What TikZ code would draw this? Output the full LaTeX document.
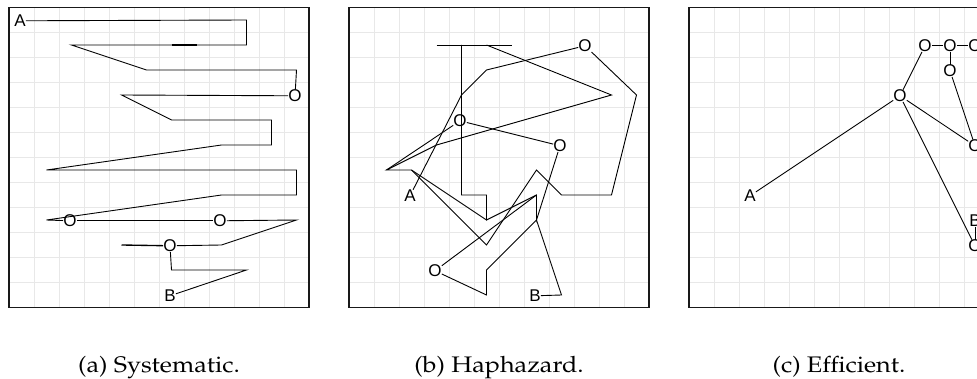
\documentclass[tikz,border=0pt]{standalone}
\usepackage{graphicx}
\usepackage{fontspec}
\newfontfamily\lblfont{Liberation Sans}
\newcommand{\widecap}[1]{\scalebox{1.12}[1]{#1}}
\usetikzlibrary{positioning}

\begin{document}
\begin{tikzpicture}[
            x=1pt, y=-1pt,
            gridline/.style={draw=black!9, line width=0.9pt},
            frame/.style   ={draw=black!90, line width=1.4pt},
            walk/.style    ={draw=black, line width=0.9pt, line join=miter},
            retrace/.style ={draw=black, line width=1.35pt},
            lbl/.style     ={font=\lblfont\fontsize{17}{17}\selectfont, inner sep=0pt,
                             xshift=-1.5pt, yshift=-0.8pt},
            subcap/.style  ={font=\fontencoding{OT1}\fontfamily{ppl}\fontsize{22.5}{26}\selectfont,
                             anchor=base}
        ]
        \useasboundingbox (0,0) rectangle (977,379);

        % (a) systematic sweep
        \begin{scope}[shift={(9,7.5)}, x=25pt, y=-25pt]
            \foreach \k in {1,...,11}{
                \draw[gridline] (\k,0) -- (\k,12);
                \draw[gridline] (0,\k) -- (12,\k);
            }
            \draw[frame] (0,0) rectangle (12,12);

            \node[lbl] (a-A)  at (0.5,0.5)  {A};
            \node[lbl] (a-O1) at (11.5,3.5) {O};
            \node[lbl] (a-O2) at (2.5,8.5)  {O};
            \node[lbl] (a-O3) at (8.5,8.5)  {O};
            \node[lbl] (a-O4) at (6.5,9.5)  {O};
            \node[lbl] (a-B)  at (6.5,11.5) {B};

            \draw[walk] (a-A) -- (9.5,0.5) -- (9.5,1.5) -- (2.5,1.5) -- (5.5,2.5)
                        -- (11.5,2.5) -- (a-O1);
            \draw[retrace] (6.5,1.5) -- (7.5,1.5);
            \draw[walk] (a-O1) -- (4.5,3.5) -- (6.5,4.5) -- (10.5,4.5) -- (10.5,5.5)
                        -- (8.5,5.5) -- (1.5,6.5) -- (11.5,6.5) -- (11.5,7.5)
                        -- (8.5,7.5) -- (1.5,8.5) -- (a-O2);
            \draw[walk] (a-O2) -- (a-O3);
            \draw[walk] (a-O3) -- (11.5,8.5) -- (8.5,9.5) -- (a-O4);
            \draw[retrace] (a-O4) -- (4.5,9.5);
            \draw[walk] (a-O4) -- (6.5,10.5) -- (9.5,10.5) -- (a-B);

            \node[subcap] (a-cap) at (6,14.61) {\widecap{(a) Systematic.}};
        \end{scope}

        % (b) haphazard walk
        \begin{scope}[shift={(349,7.5)}, x=25pt, y=-25pt]
            \foreach \k in {1,...,11}{
                \draw[gridline] (\k,0) -- (\k,12);
                \draw[gridline] (0,\k) -- (12,\k);
            }
            \draw[frame] (0,0) rectangle (12,12);

            \node[lbl] (b-A)  at (2.5,7.5)  {A};
            \node[lbl] (b-O1) at (9.5,1.5)  {O};
            \node[lbl] (b-O2) at (4.5,4.5)  {O};
            \node[lbl] (b-O3) at (8.5,5.5)  {O};
            \node[lbl] (b-O4) at (3.5,10.5) {O};
            \node[lbl] (b-B)  at (7.5,11.5) {B};

            \draw[walk] (b-A) -- (4.5,3.5) -- (5.5,2.5) -- (b-O1);
            \draw[walk] (b-O1) -- (11.5,3.5) -- (10.5,7.5) -- (8.5,7.5) -- (7.5,6.5)
                        -- (5.5,9.5) -- (2.5,6.5) -- (1.5,6.5) -- (3.5,5.5)
                        -- (10.5,3.5) -- (5.5,1.5);
            \draw[walk] (3.5,1.5) -- (6.5,1.5);
            \draw[walk] (4.5,1.5) -- (4.5,7.5) -- (5.5,7.5) -- (5.5,8.5) -- (2.5,6.5);
            \draw[walk] (5.5,8.5) -- (7.5,7.5) -- (7.5,8.5) -- (b-O3);
            \draw[walk] (b-O3) -- (b-O2);
            \draw[walk] (b-O2) -- (1.5,6.5);
            \draw[walk] (7.5,8.5) -- (5.5,10.5) -- (5.5,11.5) -- (b-O4);
            \draw[walk] (b-O4) -- (7.5,7.5);
            \draw[walk] (7.5,8.5) -- (8.5,11.5) -- (b-B);

            \node[subcap] (b-cap) at (6,14.61) {\widecap{(b) Haphazard.}};
        \end{scope}

        % (c) efficient route, cut by the right edge
        \begin{scope}[shift={(689,7.5)}, x=25pt, y=-25pt]
            \foreach \k in {1,...,11}{
                \draw[gridline] (\k,0) -- (\k,12);
                \draw[gridline] (0,\k) -- (12,\k);
            }
            \draw[frame] (0,0) rectangle (12,12);

            \node[lbl] (c-A)  at (2.5,7.5)  {A};
            \node[lbl] (c-O1) at (8.5,3.5)  {O};
            \node[lbl] (c-O2) at (9.5,1.5)  {O};
            \node[lbl] (c-O3) at (10.5,1.5) {O};
            \node[lbl] (c-O4) at (11.5,1.5) {O};
            \node[lbl] (c-O5) at (10.5,2.5) {O};
            \node[lbl] (c-O6) at (11.5,5.5) {O};
            \node[lbl] (c-B)  at (11.5,8.5) {B};
            \node[lbl] (c-O7) at (11.5,9.5) {O};

            \draw[walk] (c-A) -- (c-O1);
            \draw[walk] (c-O1) -- (c-O2);
            \draw[walk] (c-O2) -- (c-O3);
            \draw[walk] (c-O3) -- (c-O4);
            \draw[walk] (c-O3) -- (c-O5);
            \draw[walk] (c-O5) -- (c-O6);
            \draw[walk] (c-O1) -- (c-O6);
            \draw[walk] (c-O1) -- (c-O7);
            \draw[walk] (c-B) -- (c-O7);

            \node[subcap] (c-cap) at (6,14.61) {\widecap{(c) Efficient.}};
        \end{scope}

    \end{tikzpicture}
\end{document}
